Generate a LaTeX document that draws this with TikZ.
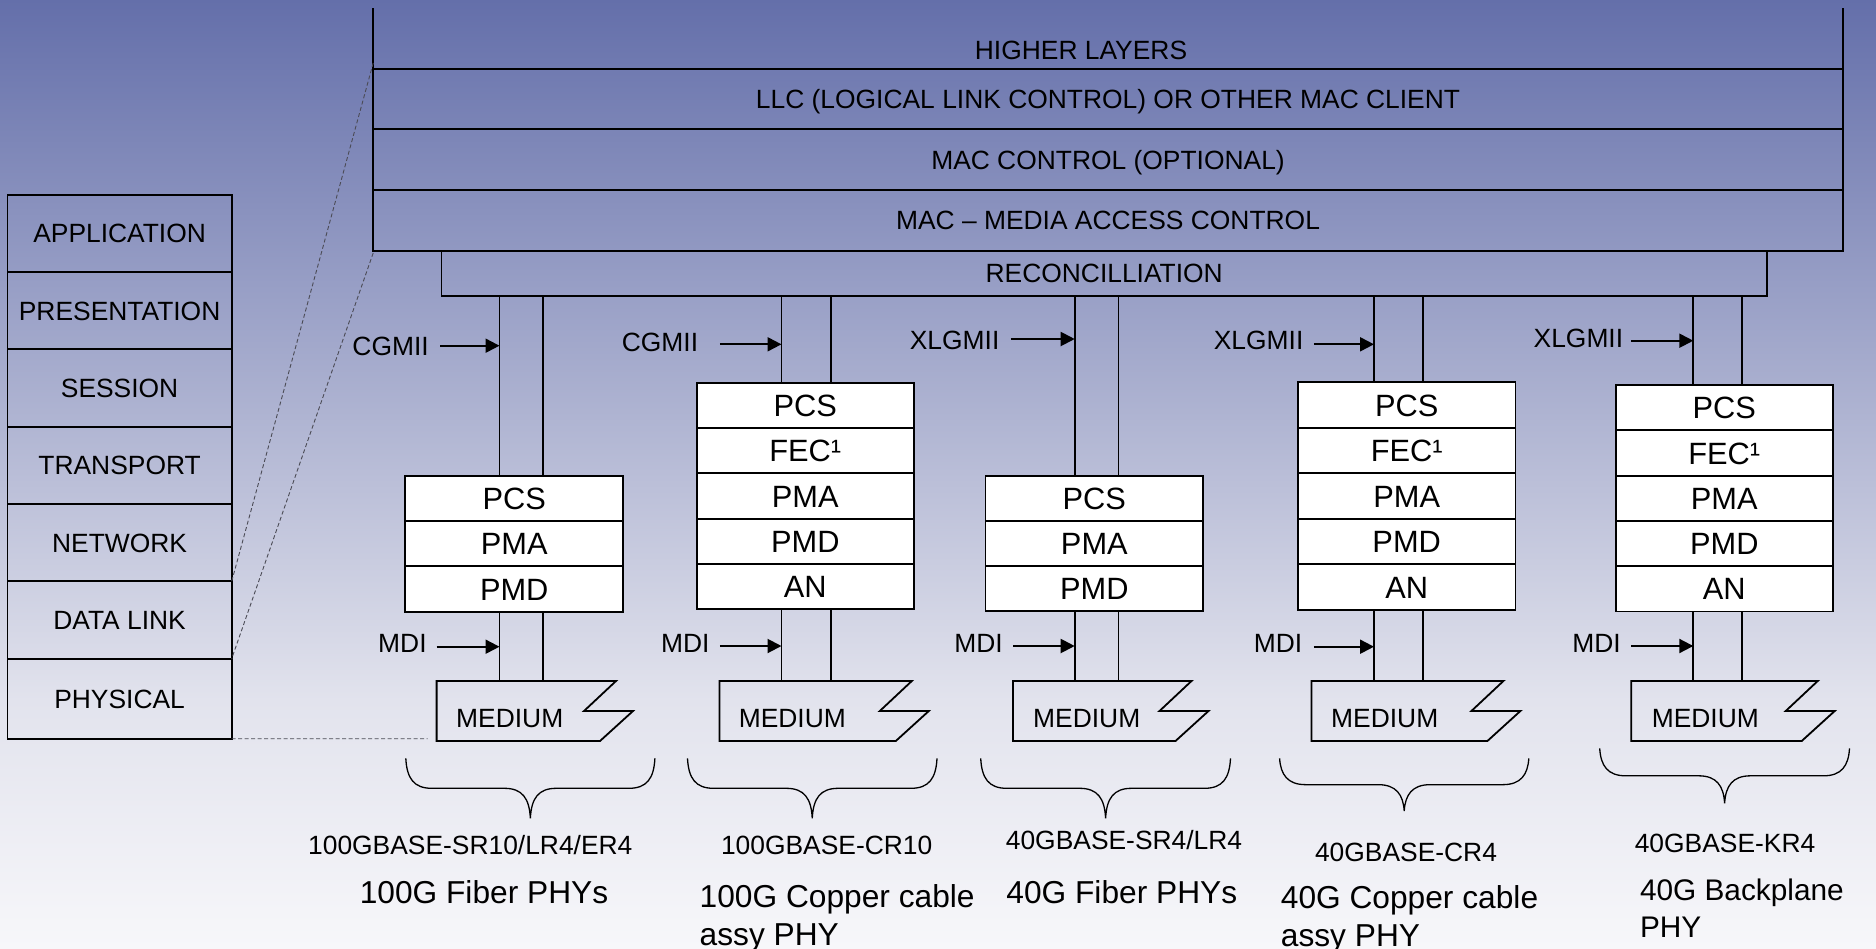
\documentclass[tikz,border=0pt]{standalone}
\usepackage{fontspec}
\setmainfont{Liberation Sans}
\usetikzlibrary{arrows.meta}
\definecolor{bgtop}{RGB}{100,111,170}
\definecolor{bgmid}{RGB}{226,227,237}
\definecolor{bgbot}{RGB}{247,247,250}
\definecolor{dashgray}{RGB}{75,75,85}
\newcommand\mymedium[2]{%
  \draw[ln] (#1,681) -- (#2,681) -- (#2-32,711) -- (#2+17,711) -- (#2-16,741) -- (#1,741) -- cycle;}
\newcommand\mybrace[4]{%
  \draw[line width=1.3pt]
    (#1,#3) .. controls (#1+1,#3+#4/2-10) and (#1+8,#3+#4/2) .. (#1+26,#3+#4/2)
    -- (#1/2+#2/2-26,#3+#4/2)
    .. controls (#1/2+#2/2-8,#3+#4/2) and (#1/2+#2/2-1,#3+#4/2+10) .. (#1/2+#2/2,#3+#4)
    .. controls (#1/2+#2/2+1,#3+#4/2+10) and (#1/2+#2/2+8,#3+#4/2) .. (#1/2+#2/2+26,#3+#4/2)
    -- (#2-26,#3+#4/2)
    .. controls (#2-8,#3+#4/2) and (#2-1,#3+#4/2-10) .. (#2,#3);}
\begin{document}
\begin{tikzpicture}[x=1pt,y=-1pt,
  ln/.style={line width=1.8pt},
  box/.style={draw, line width=1.8pt, inner sep=0pt, outer sep=0pt, anchor=north west},
  t26/.style={font=\fontsize{26.4}{30}\selectfont, inner sep=0pt, text height=18.9pt, text depth=0pt},
  t31/.style={font=\fontsize{30.8}{37}\selectfont, inner sep=0pt, text height=22.1pt, text depth=0pt},
  big/.style={font=\fontsize{31.7}{37.3}\selectfont, inner sep=0pt},
  stk/.style={box, t31, fill=white, minimum width=#1},
  arr/.style={line width=2pt, -{Triangle[length=14pt,width=14pt]}},
  dsh/.style={draw=dashgray, line width=0.9pt, dash pattern=on 4pt off 2.5pt}]
\useasboundingbox (0,0) rectangle (1876,948);
\shade[top color=bgtop, bottom color=bgmid] (0,0) rectangle (1876,700.5);
\shade[top color=bgmid, bottom color=bgbot] (0,700) rectangle (1876,948);

% OSI stack
\node[box, t26, minimum width=224.2pt, minimum height=77.3pt] (osi1) at (7.5,194.7) {APPLICATION};
\node[box, t26, minimum width=224.2pt, minimum height=77.3pt] (osi2) at (osi1.south west) {PRESENTATION};
\node[box, t26, minimum width=224.2pt, minimum height=77.4pt] (osi3) at (osi2.south west) {SESSION};
\node[box, t26, minimum width=224.2pt, minimum height=77.3pt] (osi4) at (osi3.south west) {TRANSPORT};
\node[box, t26, minimum width=224.2pt, minimum height=77.3pt] (osi5) at (osi4.south west) {NETWORK};
\node[box, t26, minimum width=224.2pt, minimum height=77.4pt] (osi6) at (osi5.south west) {DATA LINK};
\node[box, t26, minimum width=224.2pt, minimum height=80pt] (osi7) at (osi6.south west) {PHYSICAL};

% upper layers
\node[inner sep=0pt, outer sep=0pt, minimum width=1469.6pt, minimum height=60.7pt, anchor=north west] (hl) at (373.2,8.3) {};
\node[t26] (hltext) at (1081,50) {HIGHER LAYERS};
\draw[ln] (hl.north west) -- (hl.south west);
\draw[ln] (hl.north east) -- (hl.south east);
\node[box, t26, minimum width=1469.6pt, minimum height=60.3pt] (llc) at (373.2,69) {LLC (LOGICAL LINK CONTROL) OR OTHER MAC CLIENT};
\node[box, t26, minimum width=1469.6pt, minimum height=61pt] (macc) at (llc.south west) {MAC CONTROL (OPTIONAL)};
\node[box, t26, minimum width=1469.6pt, minimum height=60.4pt] (mac) at (macc.south west) {MAC – MEDIA ACCESS CONTROL};
\node[box, t26, minimum width=1325.6pt, minimum height=45.3pt] (recon) at (441.4,250.7) {RECONCILLIATION};

% dashed mapping lines
\coordinate (d1) at (373.2,63);
\coordinate (d2) at (373.2,253);
\coordinate (d3) at (427.6,738.7);
\draw[dsh] (d1) -- (osi6.north east);
\draw[dsh] (d2) -- (osi7.north east);
\draw[dsh] (osi7.south east) -- (d3);

% pipe x positions
\coordinate (x1l) at (499.5,0);  \coordinate (x1r) at (543,0);
\coordinate (x2l) at (781.5,0);  \coordinate (x2r) at (830.7,0);
\coordinate (x3l) at (1074.7,0); \coordinate (x3r) at (1118.5,0);
\coordinate (x4l) at (1374,0);   \coordinate (x4r) at (1423,0);
\coordinate (x5l) at (1693.3,0); \coordinate (x5r) at (1742.3,0);
\coordinate (mt) at (0,681);

% PHY stacks
\node[stk=217.9pt, minimum height=45.3pt] (s1a) at (405.3,475.7) {PCS};
\node[stk=217.9pt, minimum height=45.3pt] (s1b) at (s1a.south west) {PMA};
\node[stk=217.9pt, minimum height=45.3pt] (s1c) at (s1b.south west) {PMD};

\node[stk=217.4pt, minimum height=45.3pt] (s2a) at (696.6,382.7) {PCS};
\node[stk=217.4pt, minimum height=45.3pt] (s2b) at (s2a.south west) {FEC¹};
\node[stk=217.4pt, minimum height=45.3pt] (s2c) at (s2b.south west) {PMA};
\node[stk=217.4pt, minimum height=45.3pt] (s2d) at (s2c.south west) {PMD};
\node[stk=217.4pt, minimum height=45.3pt] (s2e) at (s2d.south west) {AN};

\node[stk=217.9pt, minimum height=45pt] (s3a) at (985.4,476) {PCS};
\node[stk=217.9pt, minimum height=45pt] (s3b) at (s3a.south west) {PMA};
\node[stk=217.9pt, minimum height=45pt] (s3c) at (s3b.south west) {PMD};

\node[stk=217.6pt, minimum height=45.5pt] (s4a) at (1297.9,382.3) {PCS};
\node[stk=217.6pt, minimum height=45.5pt] (s4b) at (s4a.south west) {FEC¹};
\node[stk=217.6pt, minimum height=45.5pt] (s4c) at (s4b.south west) {PMA};
\node[stk=217.6pt, minimum height=45.5pt] (s4d) at (s4c.south west) {PMD};
\node[stk=217.6pt, minimum height=45.5pt] (s4e) at (s4d.south west) {AN};

\node[stk=217.1pt, minimum height=45.3pt] (s5a) at (1615.7,385) {PCS};
\node[stk=217.1pt, minimum height=45.3pt] (s5b) at (s5a.south west) {FEC¹};
\node[stk=217.1pt, minimum height=45.3pt] (s5c) at (s5b.south west) {PMA};
\node[stk=217.1pt, minimum height=45.3pt] (s5d) at (s5c.south west) {PMD};
\node[stk=217.1pt, minimum height=45.3pt] (s5e) at (s5d.south west) {AN};

% pipes
\foreach \p/\top/\bot in {1/s1a/s1c, 2/s2a/s2e, 3/s3a/s3c, 4/s4a/s4e, 5/s5a/s5e}{
  \draw[ln] (recon.south -| x\p l) -- (\top.north -| x\p l);
  \draw[ln] (recon.south -| x\p r) -- (\top.north -| x\p r);
  \draw[ln] (\bot.south -| x\p l) -- (mt -| x\p l);
  \draw[ln] (\bot.south -| x\p r) -- (mt -| x\p r);
}

% media
\mymedium{436.6}{616}
\mymedium{719.4}{911.8}
\mymedium{1013}{1191.5}
\mymedium{1311.4}{1503.4}
\mymedium{1631.2}{1817.7}
\node[t26, anchor=west] (m1) at (456,718.3) {MEDIUM};
\node[t26, anchor=west] (m2) at (738.6,718.3) {MEDIUM};
\node[t26, anchor=west] (m3) at (1033,718.3) {MEDIUM};
\node[t26, anchor=west] (m4) at (1331,718.3) {MEDIUM};
\node[t26, anchor=west] (m5) at (1651.6,718.3) {MEDIUM};

% interface labels and arrows
\node[t26] (if1) at (390.6,345.7) {CGMII};
\node[t26] (if2) at (660,341.7) {CGMII};
\node[t26] (if3) at (954.6,340) {XLGMII};
\node[t26] (if4) at (1258.6,339.8) {XLGMII};
\node[t26] (if5) at (1578.4,338.3) {XLGMII};
\node[t26] (md1) at (402.4,643.3) {MDI};
\node[t26] (md2) at (685.2,643.3) {MDI};
\node[t26] (md3) at (978.5,643.3) {MDI};
\node[t26] (md4) at (1278,643.3) {MDI};
\node[t26] (md5) at (1596.5,643.3) {MDI};

\coordinate (a1s) at (440,345.7);    \coordinate (a1e) at (499.5,345.7);
\coordinate (a2s) at (719.8,344.3);  \coordinate (a2e) at (781.5,344.3);
\coordinate (a3s) at (1010.9,339);   \coordinate (a3e) at (1074.7,339);
\coordinate (a4s) at (1313.9,344.3); \coordinate (a4e) at (1374,344.3);
\coordinate (a5s) at (1631,340.7);   \coordinate (a5e) at (1693.3,340.7);
\coordinate (b1s) at (436.6,646.7);  \coordinate (b1e) at (499.5,646.7);
\coordinate (b2s) at (719.8,646);    \coordinate (b2e) at (781.5,646);
\coordinate (b3s) at (1013,646);     \coordinate (b3e) at (1074.7,646);
\coordinate (b4s) at (1313.9,646.7); \coordinate (b4e) at (1374,646.7);
\coordinate (b5s) at (1631,646);     \coordinate (b5e) at (1693.3,646);
\foreach \i in {1,...,5}{
  \draw[arr] (a\i s) -- (a\i e);
  \draw[arr] (b\i s) -- (b\i e);
}

% braces
\mybrace{405.8}{654.9}{758.3}{60}
\mybrace{687.5}{937}{758.3}{60}
\mybrace{980.7}{1230.5}{758.3}{60}
\mybrace{1279.6}{1528.8}{758.3}{52.7}
\mybrace{1599.7}{1849.5}{748.3}{55}

% bottom labels
\node[t26] (n1) at (470.3,845) {100GBASE-SR10/LR4/ER4};
\node[t26] (n2) at (826.7,845) {100GBASE-CR10};
\node[t26] (n3) at (1124,840) {40GBASE-SR4/LR4};
\node[t26] (n4) at (1406,851.7) {40GBASE-CR4};
\node[t26] (n5) at (1725,842.7) {40GBASE-KR4};
\node[big, text height=22.7pt, text depth=0pt] (p1) at (484,891.7) {100G Fiber PHYs};
\node[big, align=left, anchor=north west] (p2) at (699.5,884.6) {100G Copper cable\\assy PHY};
\node[big, text height=22.7pt, text depth=0pt] (p3) at (1121.8,892) {40G Fiber PHYs};
\node[big, align=left, anchor=north west] (p4) at (1280.7,885.6) {40G Copper cable\\assy PHY};
\node[font=\fontsize{29.8}{36.7}\selectfont, inner sep=0pt, align=left, anchor=north west] (p5) at (1639.8,878.6) {40G Backplane\\PHY};
\end{tikzpicture}
\end{document}
